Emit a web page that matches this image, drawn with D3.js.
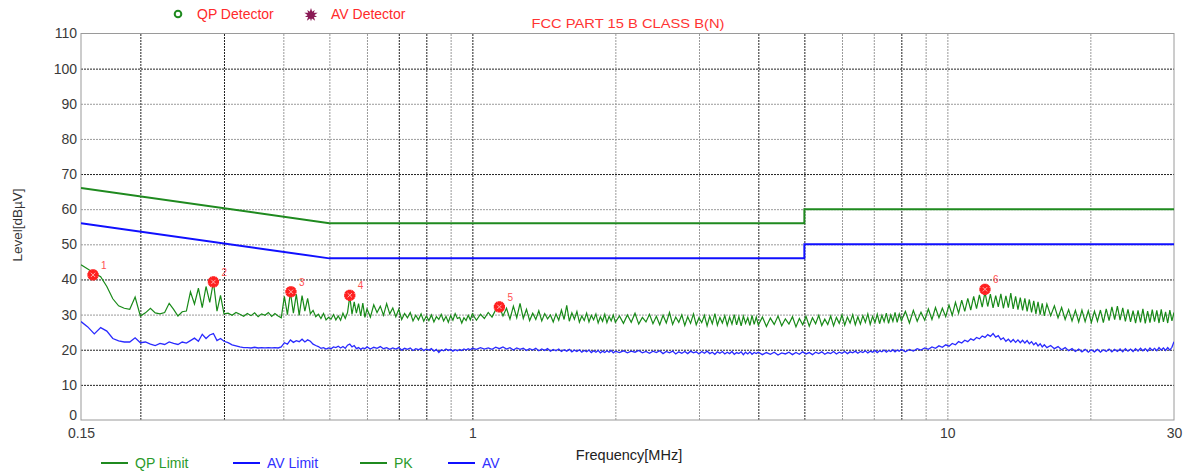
<!DOCTYPE html>
<html>
<head>
<meta charset="utf-8">
<script src="https://cdn.jsdelivr.net/npm/d3@7"></script>
<style>
  body { margin: 0; background: #fff; }
  svg { font-family: "Liberation Sans", Arial, sans-serif; }
</style>
</head>
<body>
<svg id="chart" width="1189" height="475"></svg>
<script>
'use strict';

// axis ticks and grid
var levelTicks = [0, 10, 20, 30, 40, 50, 60, 70, 80, 90, 100, 110];
var darkLevels = [10, 20, 40, 70, 100];
var gridMHz = [0.2, 0.3, 0.4, 0.5, 0.6, 0.7, 0.8, 0.9, 1, 2, 3, 4, 5, 6, 7, 8, 9, 10, 20];
var darkMHz = [0.2, 0.3, 0.7, 0.8, 1, 4, 5, 8];
var freqLabels = [0.15, 1, 10, 30];

// limit lines
var limitMHz = [0.15, 0.5, 5, 5, 30];
var qpLimitDb = [66, 56, 56, 60, 60];
var avLimitDb = [56, 46, 46, 50, 50];

// sweep frequencies (MHz) shared by PK and AV
var sweepMHz = [
  0.150,0.155,0.160,0.165,0.170,0.175,0.180,0.185,0.190,0.195,0.200,0.205,0.210,0.215,0.220,0.225,0.230,0.235,0.240,0.245,0.250,0.255,0.260,0.265,0.270,0.275,0.280,0.285,0.290,0.295,0.300,
  0.306,0.312,0.318,0.324,0.330,0.336,0.342,0.348,0.354,0.360,0.366,0.372,0.378,0.384,0.390,0.396,0.402,0.408,0.414,0.420,0.426,0.432,0.438,0.444,0.450,0.456,0.462,0.468,0.474,0.480,0.486,0.492,0.498,0.504,0.510,0.516,0.522,0.528,0.534,0.540,0.546,0.552,0.558,0.564,0.570,0.576,0.582,0.588,0.594,0.600,
  0.61,0.62,0.63,0.64,0.65,0.66,0.67,0.68,0.69,0.70,0.71,0.72,0.73,0.74,0.75,0.76,0.77,0.78,0.79,0.80,0.81,0.82,0.83,0.84,0.85,0.86,0.87,0.88,0.89,0.90,0.91,0.92,0.93,0.94,0.95,0.96,0.97,0.98,0.99,1.00,
  1.02,1.04,1.06,1.08,1.10,1.12,1.14,1.16,1.18,1.20,1.22,1.24,1.26,1.28,1.30,1.32,1.34,1.36,1.38,1.40,1.42,1.44,1.46,1.48,1.50,1.52,1.54,1.56,1.58,1.60,1.62,1.64,1.66,1.68,1.70,1.72,1.74,1.76,1.78,1.80,1.82,1.84,1.86,1.88,1.90,1.92,1.94,1.96,1.98,2.00,
  2.04,2.08,2.12,2.16,2.20,2.24,2.28,2.32,2.36,2.40,2.44,2.48,2.52,2.56,2.60,2.64,2.68,2.72,2.76,2.80,2.84,2.88,2.92,2.96,3.00,3.04,3.08,3.12,3.16,3.20,3.24,3.28,3.32,3.36,3.40,3.44,3.48,3.52,3.56,3.60,3.64,3.68,3.72,3.76,3.80,3.84,3.88,3.92,3.96,4.00,
  4.08,4.16,4.24,4.32,4.40,4.48,4.56,4.64,4.72,4.80,4.88,4.96,5.04,5.12,5.20,5.28,5.36,5.44,5.52,5.60,5.68,5.76,5.84,5.92,6.00,6.08,6.16,6.24,6.32,6.40,6.48,6.56,6.64,6.72,6.80,6.88,6.96,7.04,7.12,7.20,7.28,7.36,7.44,7.52,7.60,7.68,7.76,7.84,7.92,8.00,
  8.16,8.32,8.48,8.64,8.80,8.96,9.12,9.28,9.44,9.60,9.76,9.92,10.08,10.24,10.40,10.56,10.72,10.88,11.04,11.20,11.36,11.52,11.68,11.84,12.00,12.16,12.32,12.48,12.64,12.80,12.96,13.12,13.28,13.44,13.60,13.76,13.92,14.08,14.24,14.40,14.56,14.72,14.88,15.04,15.20,15.36,15.52,15.68,15.84,16.00,
  16.2,16.5,16.8,17.1,17.4,17.7,18.0,18.3,18.6,18.9,19.2,19.5,19.8,20.1,20.4,20.7,21.0,21.3,21.6,21.9,22.2,22.5,22.8,23.1,23.4,23.7,24.0,24.3,24.6,24.9,25.2,25.5,25.8,26.1,26.4,26.7,27.0,27.3,27.6,27.9,28.2,28.5,28.8,29.1,29.4,29.7,30.0
];

// PK trace (dBuV)
var pkDb = [
  44.2,43,41.8,40.8,38,34.5,32.5,31.8,31.5,35,29.6,30.5,31.8,30.5,30.2,30.6,33.2,31.5,29.6,30.8,31,36.5,33,37.5,32,38,33.5,39.3,31,35.5,30.2,
  30.4,29.8,30.6,30.1,29.5,30.3,29.7,30.5,29.4,30.2,29.8,30.6,29.5,30.3,29.6,29.1,35.2,30,36.3,30.4,35.8,29.8,35.4,31,34.6,30.2,31.2,29.4,30.1,28.9,30.3,28.5,29.2,28.7,30,28.5,29.6,28.4,30.4,28.9,30.6,35.2,30.1,33.6,30.4,33.1,29.6,33.3,29.2,31.6,
  29.3,32.8,30.6,32.4,29.8,33.1,30.2,31.9,29.4,31.5,28.6,30.3,29.1,30.6,28.2,29.8,28.5,30.2,28.1,29.6,28.3,29.9,27.9,29.4,28.6,30.1,28.2,29.5,27.8,29.7,28.4,30.3,28.9,29.2,27.6,29.1,28.3,29.8,28.5,30.2,
  28.4,30.1,28.9,30.6,29.3,31.4,32.2,29.6,31.8,28.7,32.4,29.1,33.2,28.9,31.5,28.3,30.4,28.6,31.1,28.2,30.3,28.8,29.9,27.9,30.2,28.4,31.3,28.6,32.6,28.1,30.5,28.7,30.9,27.8,29.6,28.3,30.4,27.9,29.8,28.5,30.2,27.6,29.4,28.1,30.1,27.7,29.5,28.2,29.9,27.8,
  29.6,27.5,29.9,27.8,30.4,27.3,29.2,27.9,30.1,27.4,29.5,27.1,29.8,27.6,30.6,27.2,29.3,27.8,29.9,26.9,29.4,27.5,30.2,27.1,29.1,27.7,29.8,26.8,29.5,27.4,30.3,27,29.2,27.6,29.7,26.9,29.3,27.3,30,27.1,29.4,26.8,29.6,27.5,29.1,26.9,29.8,27.2,29.3,27,
  29.3,26.6,29,27.2,29.6,26.8,28.8,27.3,29.4,26.5,28.9,27.1,29.5,26.7,29.1,27.4,29.8,26.9,28.7,27.2,29.6,26.8,29.2,27.5,29.9,27,29.3,27.6,30,27.1,29.4,27.3,29.7,27.8,30.2,27.2,29.5,27.7,30.1,27.4,29.8,28,30.4,27.5,29.9,28.1,30.6,27.8,30.2,28.3,
  30.9,27.6,31.2,28.1,30.7,28.4,31.6,28.6,32,29.1,31.8,29.4,32.7,29.8,33.5,30.4,34.1,30.9,34.6,31.3,35.2,31.7,35.6,32.1,36.4,32.3,35.8,31.9,35.4,32.2,35.9,31.8,35.3,32,36.1,31.6,35.2,31.4,34.8,31.2,34.6,30.9,34.3,30.6,33.9,30.2,33.6,30,33.2,29.6,
  33,29.7,32.5,29.1,32,28.6,31.4,28.2,31.2,27.9,31.3,28,31.1,27.8,31,28.1,31.3,27.7,31.6,28.3,32.2,28.6,32.4,28.4,31.9,28.1,31.5,27.9,31.1,27.6,31.2,27.8,31.6,27.5,31,27.7,31.4,28,31.2,27.6,31.5,27.9,30.8,27.6,31.3,28.2,30.6
];

// AV trace (dBuV)
var avDb = [
  28,26.5,24.5,26.3,25.3,23.2,22.5,22.2,22.2,23.4,22,22.2,21.6,21.2,21.8,21.5,22.2,21.8,21.5,22.2,21.9,22.6,23.3,22.4,24.4,23.2,24.2,24.6,22.6,23.2,22.4,
  22,21.4,21.1,20.8,20.6,20.6,20.5,20.7,20.5,20.6,20.5,20.6,20.5,20.6,20.5,20.8,22,21.6,22.8,22.1,22.6,22.3,23,22.2,22.8,22.4,21.6,21.2,20.9,20.4,20.6,20.2,20.5,20.3,20.8,20.6,21,20.5,20.9,20.4,21.3,21.6,20.8,21.2,20.3,20.6,20.1,20.5,20.3,20.8,
  20.2,20.7,20.4,20.9,20.3,20.6,20.1,20.5,20.2,20.6,19.9,20.4,20.1,20.5,19.8,20.3,20,20.4,19.7,20.2,19.9,20.3,19.6,20.1,19.2,20,19.7,20.2,19.8,20.1,19.6,20,19.7,20.1,19.8,20.2,19.9,20.3,20,20.4,
  20.1,20.6,20.2,20.5,20.1,20.7,20.3,20.8,20.2,20.6,19.9,20.5,20.1,20.4,19.8,20.3,19.9,20.4,19.7,20.2,19.8,20.3,19.6,20.1,19.7,20.2,19.5,20,19.6,20.1,19.4,19.9,19.5,20,19.3,19.8,19.4,19.9,19.2,19.7,19.3,19.8,19.1,19.6,19.2,19.7,19.3,19.8,19.1,19.6,
  19.2,19.7,19.1,19.6,19.3,19.8,19.1,19.5,19,19.6,19.2,19.7,18.9,19.5,19.1,19.6,18.8,19.4,19,19.5,18.9,19.6,19.1,19.4,18.8,19.5,19,19.6,18.9,19.3,18.7,19.4,19,19.5,18.8,19.3,18.9,19.5,18.7,19.2,18.9,19.4,18.6,19.3,18.8,19.4,18.7,19.2,18.9,19.3,
  18.6,19.2,18.7,19.3,18.5,19.1,18.8,19.3,18.6,19.2,18.7,19.4,18.8,19.2,18.6,19.3,18.9,19.4,18.7,19.2,18.9,19.5,18.8,19.3,19,19.5,18.9,19.4,19.1,19.6,19,19.5,19.2,19.7,19.1,19.6,19.3,19.8,19.2,19.7,19.4,19.9,19.3,19.8,19.5,20,19.4,19.9,19.6,20.1,
  19.4,20.1,19.6,20.3,19.9,20.5,20.1,20.8,20.4,21.1,20.7,21.4,21,21.8,21.4,22.3,21.9,22.7,22.3,23.1,22.7,23.5,23.1,23.9,23.5,24.3,23.8,24.6,23.6,24,22.9,23.4,22.4,23,22.2,22.9,22.1,22.8,22,22.7,21.9,22.6,21.7,22.3,21.4,22,21.1,21.7,20.8,21.4,
  20.6,21.2,20.3,20.9,20,20.6,19.7,20.3,19.5,20.2,19.4,20.1,19.3,20,19.4,20.1,19.3,20,19.5,20.2,19.4,20.1,19.5,20.2,19.4,20.3,19.6,20.2,19.5,20.3,19.6,20.4,19.7,20.3,19.6,20.5,19.8,20.4,19.7,20.6,19.9,20.5,19.8,20.6,19.9,20.7,22.3
];

// marked peaks
var peakNo = [1, 2, 3, 4, 5, 6];
var peakMHz = [0.159, 0.285, 0.415, 0.552, 1.14, 12.0];
var peakDb = [41.3, 39.3, 36.5, 35.5, 32.2, 37.2];

if (sweepMHz.length !== pkDb.length || sweepMHz.length !== avDb.length) {
  console.error('length mismatch', sweepMHz.length, pkDb.length, avDb.length);
}

var svg = d3.select('#chart');
var plotLeft = 81, plotRight = 1174, plotTop = 33.5, plotBottom = 420;

var x = d3.scaleLog().domain([0.15, 30]).range([plotLeft, plotRight]);
var y = d3.scaleLinear().domain([0, 110]).range([plotBottom, plotTop]);

svg.append('defs').append('clipPath').attr('id', 'plotclip')
  .append('rect').attr('x', plotLeft).attr('y', plotTop)
  .attr('width', plotRight - plotLeft).attr('height', plotBottom - plotTop);

// horizontal grid
svg.append('g')
  .attr('transform', 'translate(' + plotLeft + ',0)')
  .call(d3.axisLeft(y).tickValues(levelTicks.slice(1, -1)).tickSize(-(plotRight - plotLeft)).tickFormat(''))
  .call(function (g) {
    g.select('.domain').remove();
    g.selectAll('.tick line')
      .attr('stroke', function (d) { return darkLevels.indexOf(d) >= 0 ? '#222' : '#9a9a9a'; })
      .attr('stroke-dasharray', '2,1');
  });

// vertical grid
svg.append('g')
  .attr('transform', 'translate(0,' + plotBottom + ')')
  .call(d3.axisBottom(x).tickValues(gridMHz).tickSize(-(plotBottom - plotTop)).tickFormat(''))
  .call(function (g) {
    g.select('.domain').remove();
    g.selectAll('.tick line')
      .attr('stroke', function (d) { return darkMHz.indexOf(d) >= 0 ? '#222' : '#9a9a9a'; })
      .attr('stroke-dasharray', '2,1');
  });

// frame
svg.append('rect')
  .attr('x', plotLeft).attr('y', plotTop)
  .attr('width', plotRight - plotLeft).attr('height', plotBottom - plotTop)
  .attr('fill', 'none').attr('stroke', '#9a9a9a').attr('stroke-width', 1);

// y tick labels ("0" nudged up so it clears "0.15")
svg.append('g')
  .attr('transform', 'translate(' + plotLeft + ',0)')
  .call(d3.axisLeft(y).tickValues(levelTicks).tickSize(0).tickPadding(4))
  .call(function (g) {
    g.select('.domain').remove();
    g.selectAll('text').attr('font-size', 14).attr('fill', '#3a3a3a')
      .attr('font-family', '"Liberation Sans", Arial, sans-serif')
      .attr('dy', function (d) { return d === 0 ? '-0.05em' : '0.32em'; });
  });

// x tick labels
svg.append('g')
  .attr('transform', 'translate(0,' + plotBottom + ')')
  .call(d3.axisBottom(x).tickValues(freqLabels).tickSize(0).tickPadding(8).tickFormat(function (d) { return String(d); }))
  .call(function (g) {
    g.select('.domain').remove();
    g.selectAll('text').attr('font-size', 14).attr('fill', '#3a3a3a')
      .attr('font-family', '"Liberation Sans", Arial, sans-serif');
  });

// axis titles
svg.append('text')
  .attr('transform', 'translate(22,225) rotate(-90)')
  .attr('text-anchor', 'middle').attr('font-size', 13.5).attr('fill', '#333')
  .text('Level[dBµV]');
svg.append('text')
  .attr('x', 629).attr('y', 460)
  .attr('text-anchor', 'middle').attr('font-size', 14.5).attr('fill', '#222')
  .text('Frequency[MHz]');

// title
svg.append('text')
  .attr('x', 628).attr('y', 28)
  .attr('text-anchor', 'middle').attr('font-size', 13.5).attr('fill', '#ff3333')
  .attr('textLength', 193).attr('lengthAdjust', 'spacingAndGlyphs')
  .text('FCC PART 15 B CLASS B(N)');

var plot = svg.append('g').attr('clip-path', 'url(#plotclip)');

var line = d3.line()
  .x(function (d) { return x(d[0]); })
  .y(function (d) { return y(d[1]); });

// traces
plot.append('path')
  .datum(d3.zip(sweepMHz, avDb))
  .attr('d', line).attr('fill', 'none')
  .attr('stroke', '#2a2aff').attr('stroke-width', 1.3);

plot.append('path')
  .datum(d3.zip(sweepMHz, pkDb))
  .attr('d', line).attr('fill', 'none')
  .attr('stroke', '#188a18').attr('stroke-width', 1.2);

// limits
plot.append('path')
  .datum(d3.zip(limitMHz, qpLimitDb))
  .attr('d', line).attr('fill', 'none')
  .attr('stroke', '#1f8a1f').attr('stroke-width', 2);

plot.append('path')
  .datum(d3.zip(limitMHz, avLimitDb))
  .attr('d', line).attr('fill', 'none')
  .attr('stroke', '#1010ff').attr('stroke-width', 2);

// peak markers
var peaks = svg.append('g').selectAll('g')
  .data(d3.zip(peakNo, peakMHz, peakDb))
  .join('g')
  .attr('transform', function (d) { return 'translate(' + x(d[1]) + ',' + y(d[2]) + ')'; });

peaks.append('path')
  .attr('d', d3.symbol(d3.symbolCross, 70)())
  .attr('fill', '#ff2020');
peaks.append('path')
  .attr('d', d3.symbol(d3.symbolCross, 70)())
  .attr('transform', 'rotate(45)')
  .attr('fill', '#ff2020');
peaks.append('path')
  .attr('d', d3.symbol(d3.symbolTimes, 14)())
  .attr('stroke', '#ffb0b0').attr('stroke-width', 1).attr('fill', 'none');
peaks.append('text')
  .attr('x', 8).attr('y', -6)
  .attr('font-size', 10).attr('fill', '#ff5050')
  .text(function (d) { return d[0]; });

// top legend
svg.append('circle')
  .attr('cx', 178).attr('cy', 14).attr('r', 3.3)
  .attr('fill', 'none').attr('stroke', '#1f8a1f').attr('stroke-width', 2);
svg.append('text')
  .attr('x', 197).attr('y', 19).attr('font-size', 14).attr('fill', '#ff2a2a')
  .text('QP Detector');
svg.append('path')
  .attr('transform', 'translate(311,15)')
  .attr('d', d3.symbol(d3.symbolStar, 55)())
  .attr('fill', '#8a1a55');
svg.append('path')
  .attr('transform', 'translate(311,15) rotate(36)')
  .attr('d', d3.symbol(d3.symbolStar, 45)())
  .attr('fill', '#8a1a55');
svg.append('text')
  .attr('x', 331).attr('y', 19).attr('font-size', 14).attr('fill', '#ff2a2a')
  .text('AV Detector');

// bottom legend
var legendNames = ['QP Limit', 'AV Limit', 'PK', 'AV'];
var legendColors = ['#1f8a1f', '#1010ff', '#1f8a1f', '#1010ff'];
var legendTextColors = ['#2a9a2a', '#3030ff', '#2a9a2a', '#3030ff'];
var legendX = [101, 233, 360, 448];

var leg = svg.append('g').selectAll('g')
  .data(legendNames)
  .join('g')
  .attr('transform', function (d, i) { return 'translate(' + legendX[i] + ',463)'; });
leg.append('line')
  .attr('x1', 0).attr('x2', 27).attr('y1', 0).attr('y2', 0)
  .attr('stroke', function (d, i) { return legendColors[i]; }).attr('stroke-width', 2);
leg.append('text')
  .attr('x', 34).attr('y', 5).attr('font-size', 14)
  .attr('fill', function (d, i) { return legendTextColors[i]; })
  .text(function (d) { return d; });
</script>
</body>
</html>
